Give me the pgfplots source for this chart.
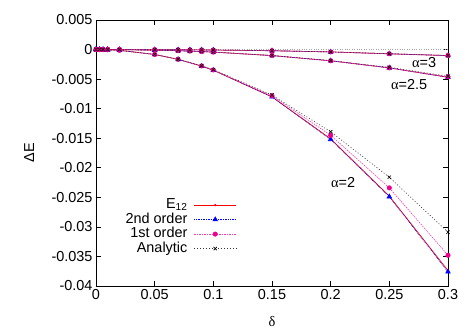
\documentclass[border=0pt]{standalone}
\usepackage{fontspec}
\setmainfont{Liberation Sans}
\newfontfamily\greekserif{Liberation Serif}
\usepackage{pgfplots}
\pgfplotsset{compat=1.18}
\begin{document}
\begin{tikzpicture}
\path[use as bounding box] (-96bp,-46bp) rectangle (378bp,286bp);
\begin{axis}[
  at={(0,0)}, anchor=south west,
  scale only axis, width=352bp, height=266bp,
  xmin=0, xmax=0.3, ymin=-0.04, ymax=0.005,
  xtick={0,0.05,0.1,0.15,0.2,0.25,0.3},
  ytick={-0.04,-0.035,-0.03,-0.025,-0.02,-0.015,-0.01,-0.005,0,0.005},
  tick align=inside, major tick length=5bp,
  tick style={black, line width=0.6pt},
  axis line style={line width=0.8pt},
  scaled ticks=false,
  /pgf/number format/assume math mode=true,
  /pgf/number format/fixed, /pgf/number format/precision=3,
  tick label style={font=\fontsize{14.5}{16}\selectfont},
  xlabel={{\greekserif δ}}, ylabel={ΔE},
  label style={font=\fontsize{14.5}{16}\selectfont},
  xlabel style={at={(axis description cs:0.5,-0.135)}, anchor=center},
  ylabel style={at={(axis description cs:-0.19,0.5)}, anchor=center},
  legend style={draw=none, fill=none, at={(axis description cs:0.40,0.335)},
    anchor=north east, font=\fontsize{14.5}{15}\selectfont, row sep=-1.5bp,
    column sep=5bp, inner sep=0pt,
    nodes={inner sep=1.5bp, text height=10bp, text depth=3bp}},
  legend cell align=right, legend plot pos=right,
  legend image code/.code={\draw[mark repeat=2,mark phase=2,#1]
    plot coordinates {(0bp,0bp) (21bp,0bp) (42bp,0bp)};},
]
\addplot[gray!70, dotted, forget plot] coordinates {(0,0) (0.3,0)};

% alpha = 2
\addplot[red, line width=0.7pt, mark=*, mark size=0.8pt] coordinates {
(0,0) (0.003,-0.000003) (0.006,-0.000012) (0.01,-0.000032) (0.02,-0.00013)
(0.05,-0.00083) (0.07,-0.00166) (0.09,-0.0028) (0.1,-0.0035) (0.15,-0.0080)
(0.2,-0.0151) (0.25,-0.0248) (0.3,-0.0374)};
\addlegendentry{E\textsubscript{12}}
\addplot[blue, densely dotted, line width=0.7pt, mark=triangle*, mark size=2.6pt, mark options={solid}] coordinates {
(0,0) (0.003,-0.000003) (0.006,-0.000012) (0.01,-0.000032) (0.02,-0.00013)
(0.05,-0.00083) (0.07,-0.00166) (0.09,-0.0028) (0.1,-0.0035) (0.15,-0.0080)
(0.2,-0.0152) (0.25,-0.0249) (0.3,-0.0376)};
\addlegendentry{2nd order}
\addplot[magenta!75, dash pattern=on 1.5pt off 1pt, line width=0.6pt, mark=*, mark size=2.2pt, mark options={solid, magenta}] coordinates {
(0,0) (0.003,-0.000003) (0.006,-0.000012) (0.01,-0.000032) (0.02,-0.00013)
(0.05,-0.00083) (0.07,-0.00165) (0.09,-0.00277) (0.1,-0.00345) (0.15,-0.0078)
(0.2,-0.0145) (0.25,-0.0234) (0.3,-0.0348)};
\addlegendentry{1st order}
\addplot[black!80, dash pattern=on 1pt off 2pt, line width=0.6pt, mark=x, mark size=2.4pt, mark options={solid, black}] coordinates {
(0,0) (0.003,-0.000003) (0.006,-0.000012) (0.01,-0.000032) (0.02,-0.00013)
(0.05,-0.00082) (0.07,-0.00164) (0.09,-0.00275) (0.1,-0.0034) (0.15,-0.0077)
(0.2,-0.0139) (0.25,-0.0216) (0.3,-0.0309)};
\addlegendentry{Analytic}

% alpha = 2.5
\addplot[red, line width=0.7pt, mark=*, mark size=0.8pt, forget plot] coordinates {
(0,0) (0.003,0) (0.006,-0.000001) (0.01,-0.000004) (0.02,-0.00002)
(0.05,-0.0001) (0.07,-0.0002) (0.08,-0.00026) (0.09,-0.00034) (0.1,-0.00043)
(0.15,-0.00102) (0.2,-0.0019) (0.25,-0.0031) (0.3,-0.0047)};
\addplot[blue, densely dotted, line width=0.7pt, mark=triangle*, mark size=2.6pt, mark options={solid}, forget plot] coordinates {
(0,0) (0.003,0) (0.006,-0.000001) (0.01,-0.000004) (0.02,-0.00002)
(0.05,-0.0001) (0.07,-0.0002) (0.08,-0.00026) (0.09,-0.00034) (0.1,-0.00043)
(0.15,-0.00102) (0.2,-0.0019) (0.25,-0.0031) (0.3,-0.0047)};
\addplot[magenta!75, dash pattern=on 1.5pt off 1pt, line width=0.6pt, mark=*, mark size=2.2pt, mark options={solid, magenta}, forget plot] coordinates {
(0,0) (0.003,0) (0.006,-0.000001) (0.01,-0.000004) (0.02,-0.00002)
(0.05,-0.0001) (0.07,-0.0002) (0.08,-0.00026) (0.09,-0.00034) (0.1,-0.00043)
(0.15,-0.00101) (0.2,-0.0019) (0.25,-0.0031) (0.3,-0.0046)};
\addplot[black!80, dash pattern=on 1pt off 2pt, line width=0.6pt, mark=x, mark size=2.4pt, mark options={solid, black}, forget plot] coordinates {
(0,0) (0.003,0) (0.006,-0.000001) (0.01,-0.000004) (0.02,-0.00002)
(0.05,-0.0001) (0.07,-0.0002) (0.08,-0.00026) (0.09,-0.00034) (0.1,-0.00042)
(0.15,-0.001) (0.2,-0.00186) (0.25,-0.003) (0.3,-0.0045)};

% alpha = 3
\addplot[red, line width=0.7pt, mark=*, mark size=0.8pt, forget plot] coordinates {
(0,0) (0.003,0) (0.006,0) (0.01,-0.000001) (0.02,-0.000003)
(0.05,-0.00002) (0.07,-0.00004) (0.08,-0.00005) (0.09,-0.00006) (0.1,-0.00008)
(0.15,-0.0002) (0.2,-0.0004) (0.25,-0.00072) (0.3,-0.00102)};
\addplot[blue, densely dotted, line width=0.7pt, mark=triangle*, mark size=2.6pt, mark options={solid}, forget plot] coordinates {
(0,0) (0.003,0) (0.006,0) (0.01,-0.000001) (0.02,-0.000003)
(0.05,-0.00002) (0.07,-0.00004) (0.08,-0.00005) (0.09,-0.00006) (0.1,-0.00008)
(0.15,-0.0002) (0.2,-0.0004) (0.25,-0.00072) (0.3,-0.00102)};
\addplot[magenta!75, dash pattern=on 1.5pt off 1pt, line width=0.6pt, mark=*, mark size=2.2pt, mark options={solid, magenta}, forget plot] coordinates {
(0,0) (0.003,0) (0.006,0) (0.01,-0.000001) (0.02,-0.000003)
(0.05,-0.00002) (0.07,-0.00004) (0.08,-0.00005) (0.09,-0.00006) (0.1,-0.00008)
(0.15,-0.0002) (0.2,-0.0004) (0.25,-0.00071) (0.3,-0.00101)};
\addplot[black!80, dash pattern=on 1pt off 2pt, line width=0.6pt, mark=x, mark size=2.4pt, mark options={solid, black}, forget plot] coordinates {
(0,0) (0.003,0) (0.006,0) (0.01,-0.000001) (0.02,-0.000003)
(0.05,-0.00002) (0.07,-0.00004) (0.08,-0.00005) (0.09,-0.00006) (0.1,-0.00008)
(0.15,-0.0002) (0.2,-0.0004) (0.25,-0.0007) (0.3,-0.001)};

\node[font=\fontsize{14.5}{16}\selectfont] at (axis cs:0.2796,-0.00215) {{\greekserif α}=3};
\node[font=\fontsize{14.5}{16}\selectfont] at (axis cs:0.2668,-0.0059) {{\greekserif α}=2.5};
\node[font=\fontsize{14.5}{16}\selectfont] at (axis cs:0.2106,-0.0225) {{\greekserif α}=2};
\end{axis}
\end{tikzpicture}
\end{document}
